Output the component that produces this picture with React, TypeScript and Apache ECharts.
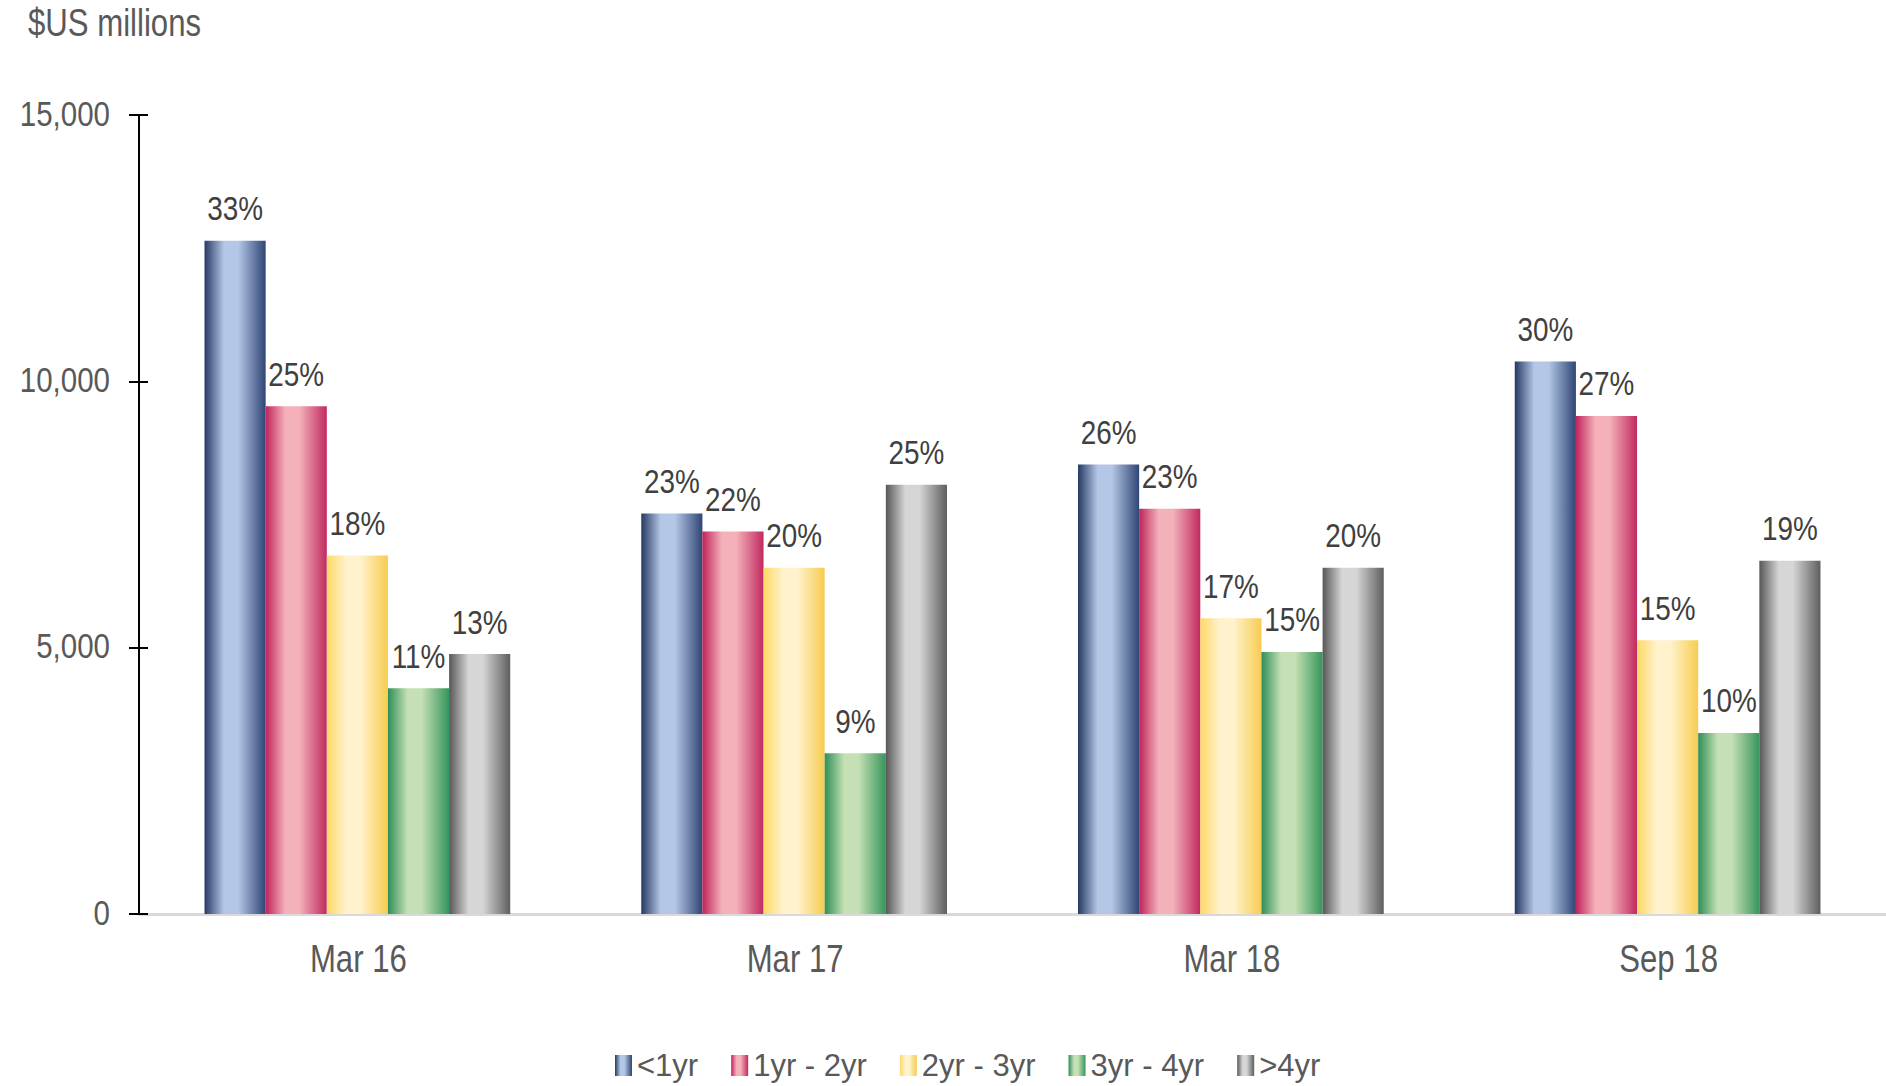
import React, { useEffect, useRef } from "react";
import * as echarts from "echarts";

const categories = ["Mar 16", "Mar 17", "Mar 18", "Sep 18"];
const seriesNames = ["<1yr", "1yr - 2yr", "2yr - 3yr", "3yr - 4yr", ">4yr"];
const lt1yr = [12640, 7520, 8440, 10370];
const yr1to2 = [9530, 7180, 7610, 9350];
const yr2to3 = [6730, 6500, 5550, 5140];
const yr3to4 = [4240, 3020, 4920, 3400];
const gt4yr = [4880, 8060, 6500, 6630];
const pctLt1yr = ["33%", "23%", "26%", "30%"];
const pctYr1to2 = ["25%", "22%", "23%", "27%"];
const pctYr2to3 = ["18%", "20%", "17%", "15%"];
const pctYr3to4 = ["11%", "9%", "15%", "10%"];
const pctGt4yr = ["13%", "25%", "20%", "19%"];
const yTicks = [0, 5000, 10000, 15000];

const FONT = "'Liberation Sans', Arial, sans-serif";
const NARROW = 0.82;

const palettes = [
  { dark: "#253a63", light: "#b4c7e7", dark2: "#2f4574" },
  { dark: "#c0235b", light: "#f4b1ba", dark2: "#c12a60" },
  { dark: "#ffd865", light: "#fff2cc", dark2: "#f7cc50" },
  { dark: "#2e8f57", light: "#c5e0b4", dark2: "#36955c" },
  { dark: "#575757", light: "#d6d6d6", dark2: "#5e5e5e" },
];

function grad(p: { dark: string; light: string; dark2: string }) {
  return new echarts.graphic.LinearGradient(0, 0, 1, 0, [
    { offset: 0, color: p.dark },
    { offset: 0.32, color: p.light },
    { offset: 0.55, color: p.light },
    { offset: 1, color: p.dark2 },
  ]);
}

function narrowText(
  text: string,
  x: number,
  y: number,
  fontSize: number,
  fill: string,
  align: string
) {
  return {
    type: "text",
    x,
    y,
    scaleX: NARROW,
    silent: true,
    style: {
      text,
      fontSize,
      fontFamily: FONT,
      fill,
      align,
      verticalAlign: "middle",
    },
  };
}

export default function App() {
  const ref = useRef<HTMLDivElement>(null);
  useEffect(() => {
    if (!ref.current) return;
    const chart = echarts.init(ref.current, undefined, { renderer: "svg" });
    const values = [lt1yr, yr1to2, yr2to3, yr3to4, gt4yr];
    const pcts = [pctLt1yr, pctYr1to2, pctYr2to3, pctYr3to4, pctGt4yr];
    const yMin = yTicks[0];
    const yMax = yTicks[yTicks.length - 1];
    const yInt = yTicks[1] - yTicks[0];
    chart.setOption({
      animation: false,
      backgroundColor: "#ffffff",
      textStyle: { fontFamily: FONT },
      grid: { left: 139, right: 0, top: 115, bottom: 172, containLabel: false },
      legend: {
        data: seriesNames,
        left: 610,
        top: 1045,
        itemWidth: 17,
        itemHeight: 21,
        itemGap: 33,
        icon: "rect",
        textStyle: { fontSize: 31, color: "#595959", fontFamily: FONT },
      },
      xAxis: {
        type: "category",
        data: categories,
        axisLine: { show: true, lineStyle: { color: "#d9d9d9", width: 3 } },
        axisTick: { show: false },
        axisLabel: { show: false },
      },
      yAxis: [
        {
          type: "value",
          min: yMin,
          max: yMax,
          interval: yInt,
          position: "left",
          axisLine: { show: true, lineStyle: { color: "#000000", width: 2 } },
          axisTick: { show: true, length: 10, lineStyle: { color: "#000000", width: 2 } },
          splitLine: { show: false },
          axisLabel: { show: false },
        },
        {
          type: "value",
          min: yMin,
          max: yMax,
          interval: yInt,
          position: "left",
          offset: 0,
          axisLine: { show: false },
          axisTick: { show: true, inside: true, length: 9, lineStyle: { color: "#000000", width: 2 } },
          splitLine: { show: false },
          axisLabel: { show: false },
        },
      ],
      series: seriesNames.map((name, i) => ({
        name,
        type: "bar",
        yAxisIndex: 0,
        data: values[i],
        barGap: "0%",
        barCategoryGap: "30%",
        itemStyle: { color: grad(palettes[i]) },
        label: { show: false },
      })),
    });

    const graphics: any[] = [];
    graphics.push(narrowText("$US millions", 28, 23, 38, "#595959", "left"));
    yTicks.forEach((v) => {
      const py = chart.convertToPixel({ yAxisIndex: 0 }, v) as number;
      graphics.push(
        narrowText(v.toLocaleString("en-US"), 110, py - 2, 36, "#595959", "right")
      );
    });
    categories.forEach((c) => {
      const px = chart.convertToPixel({ xAxisIndex: 0 }, c) as number;
      graphics.push(narrowText(c, px + 1, 959, 38, "#595959", "center"));
    });
    const model = (chart as any).getModel();
    seriesNames.forEach((_, i) => {
      const data = model.getSeriesByIndex(i).getData();
      values[i].forEach((v, j) => {
        const lay = data.getItemLayout(j);
        const cx = lay.x + lay.width / 2;
        const top = Math.min(lay.y, lay.y + lay.height);
        graphics.push(narrowText(pcts[i][j], cx, top - 32, 34, "#404040", "center"));
      });
    });
    chart.setOption({ graphic: graphics });
    return () => chart.dispose();
  }, []);
  return (
    <div
      ref={ref}
      style={{ position: "fixed", left: 0, top: 0, width: 1886, height: 1086 }}
    />
  );
}
